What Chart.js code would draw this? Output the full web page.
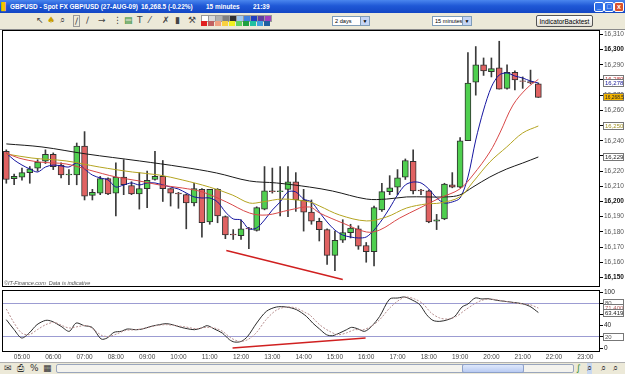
<!DOCTYPE html>
<html>
<head>
<meta charset="utf-8">
<script src="https://cdn.jsdelivr.net/npm/chart.js@4.4.1/dist/chart.umd.min.js"></script>
<style>
  body { margin: 0; width: 625px; height: 374px; overflow: hidden; background: #fff; font-family: "Liberation Sans", Arial, sans-serif; position: relative; }
  .abs { position: absolute; }
  #title { left: 0; top: 0; width: 625px; height: 13px; background: linear-gradient(#4a86ee, #1f58d6 45%, #1447c4); color: #fff; font-weight: bold; font-size: 7.5px; }
  #title span { position: absolute; top: 2px; white-space: pre; transform: scaleX(0.86); transform-origin: left center; }
  .wbtn { position: absolute; top: 2px; width: 8px; height: 8px; border: 1px solid #fff; border-radius: 2px; background: #2e6ee8; color: #fff; font-size: 7px; line-height: 8px; text-align: center; }
  #toolbar { left: 0; top: 13px; width: 625px; height: 16px; background: #ece9d8; border-bottom: 1px solid #8a8a8a; font-size: 9px; }
  #toolbar .ic { position: absolute; top: 2px; font-family: "DejaVu Sans", sans-serif; font-size: 9px; color: #444; }
  .pal { position: absolute; width: 6px; height: 5px; }
  .dd { position: absolute; top: 3px; height: 10px; background: #fff; border: 1px solid #7f9db9; font-size: 5.6px; line-height: 9px; padding-left: 2px; box-sizing: border-box; white-space: nowrap; }
  .dd b { position: absolute; right: 0; top: 0; width: 8px; height: 8px; background: #c4d5f5; border-left: 1px solid #7f9db9; font-size: 5px; text-align: center; font-weight: normal; }
  #ib { left: 536px; top: 2px; width: 57px; height: 12px; border: 1px solid #555; border-radius: 2px; background: linear-gradient(#fff, #e3e1d8); font-size: 6.5px; line-height: 11px; text-align: center; box-sizing: border-box; }
  #copy { left: 4px; top: 280px; font-size: 5.5px; font-style: italic; color: #555; white-space: pre; }
  #bottom { left: 0; top: 362px; width: 625px; height: 12px; background: #ece9d8; border-top: 1px solid #b0b0b0; }
  #bottom .ic { position: absolute; top: 0; font-family: "DejaVu Sans", sans-serif; font-size: 9px; color: #333; }
  #track { left: 56px; top: 1px; width: 518px; height: 9px; background: #f4f3ee; border: 1px solid #9aa6bd; border-radius: 2px; box-sizing: border-box; }
  #thumb { left: 462px; top: 1px; width: 62px; height: 9px; background: linear-gradient(#dfe8fb, #b9cbf3); border: 1px solid #8da0c8; border-radius: 2px; box-sizing: border-box; }
</style>
</head>
<body>
<div id="title" class="abs">
  <span style="left:1px;color:#f5c400">&#9608;</span>
  <span style="left:10px">GBPUSD - Spot FX GBP/USD (27-AUG-09)</span>
  <span style="left:141px">16,268.5 (-0.22%)</span>
  <span style="left:206px">15 minutes</span>
  <span style="left:253px">21:39</span>
  <div class="wbtn" style="left:594px">_</div>
  <div class="wbtn" style="left:604px">&#9633;</div>
  <div class="wbtn" style="left:614px;background:#d9512c">x</div>
</div>
<div id="toolbar" class="abs">
  <span class="ic" style="left:36px">&#8598;</span>
  <span class="ic" style="left:47px;color:#c9a000">&#9824;</span>
  <span class="ic" style="left:60px">&#8981;</span>
  <span class="ic" style="left:73px;border:1px solid #999;padding:0 1px">&#8725;</span>
  <span class="ic" style="left:86px">&#8725;</span>
  <span class="ic" style="left:98px">&#8594;</span>
  <span class="ic" style="left:113px">&#8942;</span>
  <span class="ic" style="left:124px;color:#2a8a2a">&#9636;</span>
  <span class="ic" style="left:137px">T</span>
  <span class="ic" style="left:149px">&#8260;</span>
  <span class="ic" style="left:162px">&#10007;</span>
  <span class="ic" style="left:175px">&#9646;</span>
  <span class="ic" style="left:188px">&#9874;</span>
  <div id="palette"></div>
  <div class="dd" style="left:332px;width:38px">2 days<b>&#9660;</b></div>
  <div class="dd" style="left:432px;width:40px">15 minutes<b>&#9660;</b></div>
  <div id="ib" class="abs">IndicatorBacktest</div>
</div>
<canvas id="main" class="abs" width="623" height="257" style="left:2px;top:30px"></canvas>
<canvas id="lower" class="abs" width="623" height="78" style="left:2px;top:284px"></canvas>
<div id="copy" class="abs">&copy;IT-Finance.com  Data is indicative</div>
<div id="bottom" class="abs">
  <span class="ic" style="left:4px">&#9993;</span>
  <span class="ic" style="left:17px">&#9113;</span>
  <span class="ic" style="left:30px">%</span>
  <span class="ic" style="left:43px">&#9638;</span>
  <div id="track" class="abs"></div>
  <div id="thumb" class="abs"></div>
  <span class="ic" style="left:576px;color:#2a8a2a">&#8747;</span>
  <span class="ic" style="left:587px;background:#c8d8f0">&#8981;</span>
  <span class="ic" style="left:601px">&#8981;</span>
  <span class="ic" style="left:613px">&#8981;</span>
</div>
<script>
// 15-minute bars, 27 Aug 2009
const barTimes = ["04:30","04:45","05:00","05:15","05:30","05:45","06:00","06:15","06:30","06:45",
  "07:00","07:15","07:30","07:45","08:00","08:15","08:30","08:45","09:00","09:15",
  "09:30","09:45","10:00","10:15","10:30","10:45","11:00","11:15","11:30","11:45",
  "12:00","12:15","12:30","12:45","13:00","13:15","13:30","13:45","14:00","14:15",
  "14:30","14:45","15:00","15:15","15:30","15:45","16:00","16:15","16:30","16:45",
  "17:00","17:15","17:30","17:45","18:00","18:15","18:30","18:45","19:00","19:15",
  "19:30","19:45","20:00","20:15","20:30","20:45","21:00","21:15","21:30"];
const opens = [16233,16215,16216,16219,16222,16226.5,16231,16224,16217.5,16217.5,
  16236.5,16204,16205.5,16215,16205.5,16216,16210.5,16205,16208.5,16214.5,
  16216.5,16208.5,16205.5,16204.5,16199,16208,16186.5,16208,16190,16178.5,
  16177.5,16182.5,16181,16195,16207,16206.5,16208,16213,16201,16193,
  16187,16181.5,16164.5,16174.5,16179.5,16182,16171,16167,16194.5,16206.5,
  16209.5,16216,16226.5,16207.5,16207,16187,16188.5,16211,16209.5,16240,
  16278.5,16290,16285.5,16288,16274.5,16285,16279.5,16279,16277.5];
const highs = [16234,16218,16222,16223,16227.5,16234,16232,16225.5,16221,16238.5,
  16246,16208,16216.5,16215.5,16225.5,16227.5,16213,16219,16220,16233,
  16227,16208.5,16206,16205,16212,16208.5,16208,16208.5,16190.5,16181.5,
  16188,16183,16196.5,16223,16222,16223,16223,16219,16208,16201,
  16189,16182,16180.5,16188,16185,16184,16173,16197,16212,16217,
  16221,16228,16234,16208,16207.5,16191.5,16212,16219,16242,16298,
  16302,16294.5,16294.5,16305.5,16290,16286,16282,16286.5,16278];
const lows = [16212,16211,16214,16212,16220,16225,16221,16215.5,16211,16211,
  16201,16201,16204.5,16204.5,16190.5,16204.5,16204.5,16195,16196,16214,
  16200,16197,16195.5,16182,16197,16176.5,16185,16186,16175.5,16175,
  16175,16169,16180.5,16194.5,16205.5,16190.5,16190,16193.5,16180.5,16185,
  16174,16158.5,16154.5,16173,16176,16168.5,16160,16157.5,16193.5,16204.5,
  16204.5,16214.5,16205,16204.5,16186,16181.5,16188,16209,16209,16240,
  16270,16283,16282,16274,16274,16273.5,16274.5,16277.5,16268.5];
const closes = [16214.5,16216.5,16219,16221.5,16226,16231,16223,16217.5,16218,16236.5,
  16203.5,16206,16215,16205,16216,16211,16205,16208.5,16214,16216.5,
  16208.5,16205.5,16205,16199,16208.5,16186,16208,16190.5,16178,16178,
  16182,16182,16196,16207,16206.5,16207,16213,16201,16193,16187,
  16181.5,16164.5,16174.5,16179.5,16182.5,16170.5,16167,16196,16206.5,16209,
  16215.5,16227,16207,16207,16186.5,16188,16211.5,16209.5,16240,16278,
  16290,16286,16287.5,16274,16285,16280,16279,16278,16268.5];

// moving averages
const blueMA = [16231.9,16227.3,16224.0,16221.4,16219.4,16222.7,16224.0,16223.4,16222.7,16225.3,
  16221.4,16217.4,16215.5,16214.2,16209.5,16210.9,16212.2,16210.9,16212.2,16212.2,
  16210.9,16209.5,16208.2,16205.6,16203.0,16202.3,16202.3,16199.7,16193.1,16188.5,
  16187.8,16181.9,16182.6,16187.8,16194.4,16199.7,16206.3,16206.3,16201.6,16199.7,
  16193.1,16186.5,16181.2,16177.9,16176.6,16176.0,16176.6,16181.2,16187.8,16195.7,
  16204.3,16210.9,16212.8,16212.2,16208.2,16202.3,16199.0,16199.7,16202.3,16216.1,
  16240.5,16260.2,16275.4,16283.3,16284.6,16282.6,16281.3,16279.3,16278.0];
const redTimes = [4.5,4.9,5.55,6.41,7.15,8.01,8.75,9.39,10.12,10.76,11.53,12.27,12.81,13.55,14.19,
  14.51,15.25,16.01,16.43,17.07,17.71,18.35,18.99,19.41,19.95,20.27,20.69,21.14,21.5];
const redMA = [16231.9,16228.6,16226.0,16224.7,16220.7,16216.1,16213.5,16210.9,16208.9,16206.3,
  16199.7,16192.4,16191.1,16194.4,16196.4,16192.4,16185.8,16179.9,16181.2,16189.1,
  16195.7,16202.3,16208.2,16217.4,16232.6,16245.1,16263.5,16274.7,16280.4];
const oliveTimes = [4.5,5.32,6.41,7.47,8.53,9.39,10.12,10.99,11.72,12.27,12.68,13.33,14.19,14.51,
  15.15,16.01,16.65,17.29,17.93,18.35,18.99,19.41,19.95,20.49,21.0,21.5];
const oliveMA = [16231.3,16228.6,16226.7,16222.7,16219.4,16217.4,16214.2,16209.5,16204.3,16199.0,
  16199.7,16201.6,16199.7,16197.0,16191.1,16187.2,16189.8,16195.7,16198.4,16199.0,
  16203.0,16212.8,16226.0,16235.9,16245.1,16249.7];
const blackTimes = [4.5,5.64,7.05,8.75,10.12,11.21,12.27,13.13,14.19,14.92,16.01,16.65,17.29,
  17.93,18.57,18.99,19.41,19.95,20.49,21.0,21.5];
const blackMA = [16237.9,16235.9,16231.3,16226.7,16222.7,16218.8,16213.5,16212.2,16209.5,16206.9,
  16201.6,16201.6,16203.0,16203.0,16203.0,16204.3,16209.5,16216.1,16221.4,16225.3,16229.3];

// stochastic %K / %D
const kTimes = [4.50,4.75,4.99,5.23,5.48,5.76,5.96,6.25,6.51,6.73,6.99,
  7.24,7.53,7.72,7.94,8.17,8.36,8.65,8.84,9.13,9.39,9.61,9.80,
  10.09,10.28,10.51,10.73,10.92,11.15,11.40,11.63,11.79,
  12.01,12.21,12.50,12.81,13.13,13.45,13.77,
  14.09,14.29,14.51,14.73,14.92,15.15,15.37,15.53,15.72,15.95,
  16.17,16.43,16.75,17.01,17.23,17.49,17.71,17.93,
  18.13,18.35,18.61,18.83,19.06,19.25,19.48,19.70,19.89,
  20.18,20.44,20.69,20.98,21.23,21.5];
const kValues = [50.6,32.7,17.9,26.8,41.7,49.4,47.6,38.7,29.8,44.6,39.9,
  36.9,16.1,17.9,28,29.8,33.9,32.7,33.9,38.7,41.7,43.5,41.7,
  36.9,34.5,32.7,35.7,39.9,33.9,26.8,14.9,10.7,
  11.9,20.8,44.6,65.5,73.2,73.2,68.5,
  56.5,44.6,33.9,23.8,22.0,26.8,32.7,36.9,34.5,29.8,
  38.7,56.5,87.5,89.3,91.1,85.1,77.4,59.5,
  49.4,47.6,50.6,56.5,73.2,78.6,89.3,87.5,88.1,
  85.1,83.3,81.5,79.2,74.4,63.419];
const dTimes = [4.50,4.75,4.99,5.23,5.49,5.76,6.03,6.29,6.51,6.83,7.09,
  7.36,7.57,7.79,8.05,8.32,8.64,8.96,9.28,9.60,9.92,
  10.24,10.56,10.88,11.15,11.41,11.68,11.95,
  12.21,12.48,12.80,13.12,13.44,13.76,
  14.08,14.19,14.51,14.83,15.10,15.36,15.63,15.90,
  16.16,16.43,16.75,17.07,17.28,17.55,17.81,
  18.08,18.35,18.62,18.88,19.15,19.42,19.69,19.94,
  20.27,20.59,20.91,21.23,21.5];
const dValues = [69.6,44.6,26.8,23.8,32.7,41.7,45.8,39.9,35.7,38.7,39.9,
  29.8,22.0,20.8,25.6,31.5,32.7,35.7,39.9,41.7,39.9,
  37.5,34.5,36.9,35.7,29.8,17.9,11.9,
  14.9,26.8,50.6,67.3,73.2,71.4,
  62.5,59.5,41.7,29.8,23.8,26.8,32.7,32.7,
  38.7,50.6,71.4,86.3,91.1,87.5,79.2,
  62.5,53.6,51.8,56.5,67.3,77.4,85.1,87.5,
  85.1,82.1,79.2,77.4,71.4];

// hand-drawn divergence lines
const priceTrendTimes = [11.53, 15.25];
const priceTrendValues = [16167.7, 16148.6];
const stochTrendTimes = [11.73, 15.98];
const stochTrendValues = [0, 17.9];

const priceTicks = [16150,16160,16170,16180,16190,16200,16210,16220,16230,16240,16250,16260,16270,16280,16290,16300,16310];
const stochTicks = [0, 20, 40, 60, 80, 100];
const stochLevels = [20, 80];
const timeTicks = ["05:00","06:00","07:00","08:00","09:00","10:00","11:00","12:00","13:00","14:00",
  "15:00","16:00","17:00","18:00","19:00","20:00","21:00","22:00","23:00"];

const X_MIN = 4.362, X_MAX = 23.47;
const FONT = "Liberation Sans";

// palette squares in the toolbar
const palTop = ["#ffffff","#d8d8d8","#b0b0b0","#808080","#303030","#a0c8f0","#4080e0","#2040c0","#6040a0","#a040c0"];
const palBot = ["#e02020","#c06060","#f0a080","#f8d040","#f0f020","#60d060","#20a040","#20c0a0","#40a0e0","#2060a0"];
const palEl = document.getElementById("palette");
palTop.forEach((c, i) => { const d = document.createElement("div"); d.className = "pal"; d.style.cssText = `left:${201 + i * 7}px;top:2px;background:${c};border:0.5px solid #999`; palEl.appendChild(d); });
palBot.forEach((c, i) => { const d = document.createElement("div"); d.className = "pal"; d.style.cssText = `left:${201 + i * 7}px;top:8px;background:${c}`; palEl.appendChild(d); });

function toHours(s) {
  const [h, m] = s.split(":").map(Number);
  return h + m / 60;
}
const fmt = (v, d) => v.toLocaleString("en-US", { minimumFractionDigits: d, maximumFractionDigits: d });
const last = arr => arr[arr.length - 1];

const barX = barTimes.map(toHours);
const up = closes.map((c, i) => c > opens[i]);
const pts = (xs, ys) => xs.map((x, i) => ({ x: x, y: ys[i] }));

// frame, value tags on the right axis, and (optionally) time labels under the panel
function framePlugin(tags, timeLabels) {
  return {
    id: "frame",
    afterDraw(chart) {
      const { ctx, chartArea: a } = chart;
      ctx.save();
      ctx.strokeStyle = "#000";
      ctx.lineWidth = 1;
      ctx.strokeRect(a.left + 0.5, a.top + 0.5, a.width - 1, a.height - 1);
      const ys = chart.scales.y;
      tags.forEach(t => {
        const py = Math.round(ys.getPixelForValue(t[0]));
        ctx.fillStyle = t[3];
        ctx.fillRect(a.right + 3, py - 4, 21, 8);
        ctx.strokeStyle = "#777";
        ctx.strokeRect(a.right + 3.5, py - 3.5, 20, 7);
        ctx.fillStyle = t[2];
        ctx.font = "6px " + FONT;
        ctx.textBaseline = "middle";
        ctx.textAlign = "left";
        ctx.fillText(t[1], a.right + 5, py + 0.5, 19);
      });
      if (timeLabels) {
        const xs = chart.scales.x;
        ctx.fillStyle = "#444";
        ctx.font = "6.5px " + FONT;
        ctx.textAlign = "center";
        ctx.textBaseline = "middle";
        timeLabels.forEach(t => ctx.fillText(t, xs.getPixelForValue(toHours(t)), a.bottom + 5.5));
      }
      ctx.restore();
    }
  };
}

const lineDs = (data, color, extra) => Object.assign({
  type: "line", data: data, borderColor: color, borderWidth: 1, pointRadius: 0,
  tension: 0.35, fill: false, order: 0
}, extra || {});

// [value, text, text colour, fill]
const mainTags = [
  [last(redMA), fmt(last(redMA), 0), "#c03030", "#ffffff"],
  [last(blueMA), fmt(last(blueMA), 0), "#20209a", "#ffffff"],
  [last(closes), fmt(last(closes), 1), "#222222", "#f3b400"],
  [last(oliveMA), fmt(last(oliveMA), 0), "#a09020", "#ffffff"],
  [last(blackMA), fmt(last(blackMA), 0), "#222222", "#ffffff"]
];
const lowerTags = [
  [stochLevels[1], String(stochLevels[1]), "#555555", "#ffffff"],
  [last(dValues), last(dValues).toFixed(3), "#b06060", "#ffffff"],
  [last(kValues), last(kValues).toFixed(3), "#222222", "#ffffff"],
  [stochLevels[0], String(stochLevels[0]), "#555555", "#ffffff"]
];

new Chart(document.getElementById("main"), {
  type: "bar",
  data: {
    datasets: [
      lineDs(pts(redTimes, redMA), "#d84848"),
      lineDs(pts(oliveTimes, oliveMA), "#b4a421"),
      lineDs(pts(blackTimes, blackMA), "#1a1a1a"),
      lineDs(pts(barX, blueMA), "#1616a0", { tension: 0.3 }),
      lineDs(pts(priceTrendTimes, priceTrendValues), "#d02020", { borderWidth: 1.5, tension: 0 }),
      {
        label: "bodies",
        data: barX.map((x, i) => ({ x: x, y: [opens[i], closes[i]] })),
        backgroundColor: up.map(u => u ? "#4fcf4f" : "#e06262"),
        borderColor: "#303030",
        borderWidth: 1,
        borderSkipped: false,
        barThickness: 6,
        grouped: false,
        order: 2
      },
      {
        label: "wicks",
        data: barX.map((x, i) => ({ x: x, y: [lows[i], highs[i]] })),
        backgroundColor: "#3a3a3a",
        barThickness: 1,
        grouped: false,
        order: 3
      }
    ]
  },
  options: {
    responsive: false,
    animation: false,
    events: [],
    plugins: { legend: { display: false }, tooltip: { enabled: false } },
    scales: {
      x: { type: "linear", display: false, min: X_MIN, max: X_MAX, offset: false },
      y: {
        type: "linear", position: "right", min: 16143.7, max: 16312.9, beginAtZero: false,
        afterBuildTicks: s => { s.ticks = priceTicks.map(v => ({ value: v })); },
        afterFit: s => { s.width = 25; s.paddingTop = 0; s.paddingBottom = 0; },
        border: { display: false },
        grid: { drawOnChartArea: false, drawTicks: true, tickLength: 3, color: "#000" },
        ticks: {
          padding: 1,
          color: c => c.tick && c.tick.value % 50 === 0 ? "#111" : "#555",
          font: c => ({ family: FONT, size: 6.5, weight: c.tick && c.tick.value % 50 === 0 ? "bold" : "normal" }),
          callback: v => fmt(v, 0)
        }
      }
    }
  },
  plugins: [framePlugin(mainTags, null)]
});

new Chart(document.getElementById("lower"), {
  type: "line",
  data: {
    datasets: [
      lineDs(pts(dTimes, dValues), "#b89090", { borderDash: [2, 1.5], tension: 0.3 }),
      lineDs(pts(kTimes, kValues), "#2a2a2a", { tension: 0.3 }),
      lineDs(pts(stochTrendTimes, stochTrendValues), "#d02020", { borderWidth: 1.5, tension: 0 })
    ]
  },
  options: {
    responsive: false,
    animation: false,
    events: [],
    layout: { padding: { top: 6, bottom: 10 } },
    plugins: { legend: { display: false }, tooltip: { enabled: false } },
    scales: {
      x: { type: "linear", display: false, min: X_MIN, max: X_MAX, offset: false },
      y: {
        type: "linear", position: "right", min: -7.1, max: 103.6,
        afterBuildTicks: s => { s.ticks = stochTicks.map(v => ({ value: v })); },
        afterFit: s => { s.width = 25; s.paddingTop = 0; s.paddingBottom = 0; },
        border: { display: false },
        grid: {
          drawTicks: true, tickLength: 3, tickColor: "#000",
          color: c => c.tick && stochLevels.includes(c.tick.value) ? "#9c9cd2" : "rgba(0,0,0,0)"
        },
        ticks: { padding: 1, color: "#222", font: { family: FONT, size: 6.5 }, callback: v => String(v) }
      }
    }
  },
  plugins: [framePlugin(lowerTags, timeTicks)]
});
</script>
</body>
</html>
